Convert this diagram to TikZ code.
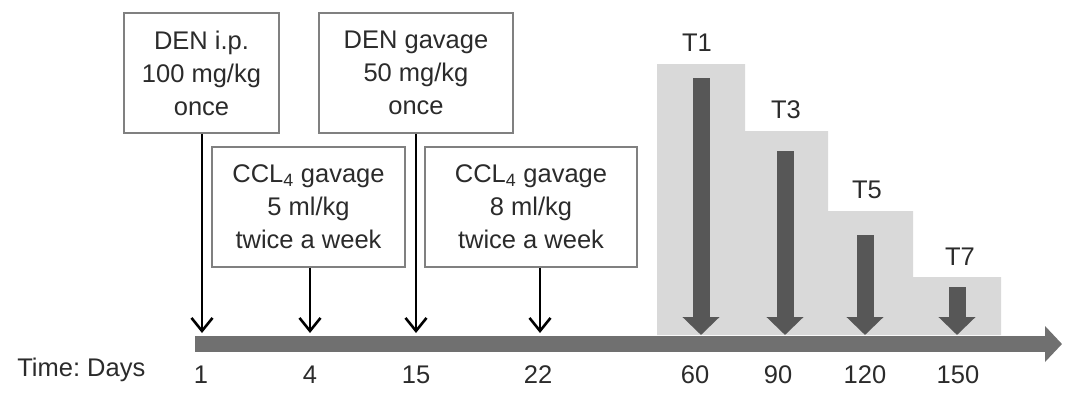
\documentclass[tikz,border=0pt]{standalone}
\usepackage{fontspec}
\setmainfont{Liberation Sans}
\usetikzlibrary{arrows.meta, positioning}
\definecolor{cbar}{HTML}{707070}
\definecolor{cdark}{HTML}{575757}
\definecolor{cshade}{HTML}{D9D9D9}
\definecolor{cframe}{HTML}{808080}
\definecolor{ctext}{HTML}{2B2B2B}
\tikzset{
  every picture/.style={line width=2pt},
  every node/.style={font=\fontsize{25.5}{33}\selectfont\frenchspacing, text=ctext},
  dose/.style={draw=cframe, line width=1.6pt, fill=white, align=center, minimum height=120pt},
  inject/.style={-{Straight Barb[length=13pt, width=21pt, line width=2.6pt]}, draw=black, line width=2.6pt},
  sample/.style={-{Triangle[length=18pt, width=36pt]}, draw=cdark, line width=17pt},
  timeline/.style={-{Triangle[length=17pt, width=35pt]}, draw=cbar, line width=16pt},
}

\begin{document}
\begin{tikzpicture}[x=1pt, y=-1pt]
  \useasboundingbox (0,0) rectangle (1075,396);
  % sampling window
  \fill[cshade] (657,335) -- (657,64) -- (745,64) -- (745,131) -- (828,131) -- (828,211)
    -- (913,211) -- (913,277) -- (1001,277) -- (1001,335) -- cycle;
  % time axis
  \coordinate (tstart) at (195,344);
  \coordinate (tend) at (1062,344);
  \draw[timeline] (tstart) -- (tend);
  \node[anchor=west] (time) at (13,370) {Time: Days};
  \node (d1) at (201,375) {1};
  \node (d4) at (310,375) {4};
  \node (d15) at (416,375) {15};
  \node (d22) at (538,375) {22};
  \node (d60) at (695,375) {60};
  \node (d90) at (778,375) {90};
  \node (d120) at (865,375) {120};
  \node (d150) at (958,375) {150};
  % treatments
  \node[dose, minimum width=155pt] (denip) at (201.5,73) {DEN i.p.\\100 mg/kg\\once};
  \node[dose, minimum width=194pt] (dengav) at (416,73) {DEN gavage\\50 mg/kg\\once};
  \node[dose, minimum width=193pt] (ccla) at (308.5,207) {CCL\textsubscript{4} gavage\\5 ml/kg\\twice a week};
  \node[dose, minimum width=212pt] (cclb) at (531,207) {CCL\textsubscript{4} gavage\\8 ml/kg\\twice a week};
  \coordinate (a1) at (202,333);
  \coordinate (a4) at (310,333);
  \coordinate (a15) at (416,333);
  \coordinate (a22) at (540,333);
  \draw[inject] (denip.south -| a1) -- (a1);
  \draw[inject] (ccla.south -| a4) -- (a4);
  \draw[inject] (dengav.south) -- (a15);
  \draw[inject] (cclb.south -| a22) -- (a22);
  % time points
  \node (t1) at (697,43) {T1};
  \node (t3) at (786,110) {T3};
  \node (t5) at (867,190) {T5};
  \node (t7) at (960,257) {T7};
  \coordinate (s1) at (701,78);
  \coordinate (s3) at (785,151);
  \coordinate (s5) at (865,235);
  \coordinate (s7) at (957,287);
  \draw[sample] (s1) -- (s1 |- 0,335);
  \draw[sample] (s3) -- (s3 |- 0,335);
  \draw[sample] (s5) -- (s5 |- 0,335);
  \draw[sample] (s7) -- (s7 |- 0,335);
\end{tikzpicture}
\end{document}
